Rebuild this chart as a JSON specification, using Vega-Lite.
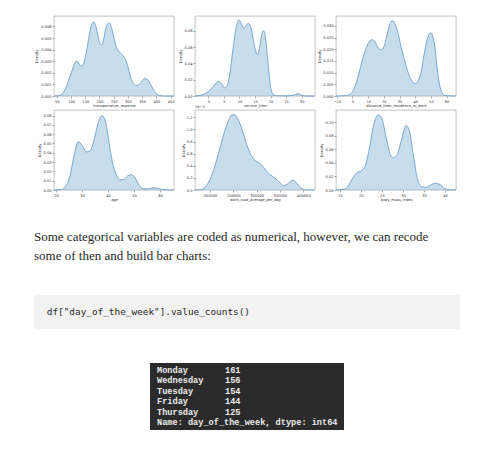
{
  "$schema": "https://vega.github.io/schema/vega-lite/v6.json",
  "padding": {"left": 34, "top": 10, "right": 4, "bottom": 4},
  "background": "white",
  "spacing": 0,
  "bounds": "full",
  "datasets": {
    "transport": [
      {"value": 40, "density": 0}, {"value": 55, "density": 0.00002}, {"value": 65, "density": 0.0001}, {"value": 75, "density": 0.0004},
      {"value": 85, "density": 0.0009}, {"value": 95, "density": 0.0016}, {"value": 105, "density": 0.0023}, {"value": 112, "density": 0.0028},
      {"value": 118, "density": 0.0030}, {"value": 125, "density": 0.0029}, {"value": 133, "density": 0.0026}, {"value": 140, "density": 0.0026},
      {"value": 148, "density": 0.0031}, {"value": 157, "density": 0.0042}, {"value": 166, "density": 0.0055}, {"value": 173, "density": 0.0062},
      {"value": 179, "density": 0.0064}, {"value": 186, "density": 0.0061}, {"value": 194, "density": 0.0053}, {"value": 202, "density": 0.0045},
      {"value": 208, "density": 0.0044}, {"value": 214, "density": 0.0048}, {"value": 221, "density": 0.0057}, {"value": 228, "density": 0.0062},
      {"value": 235, "density": 0.0063}, {"value": 242, "density": 0.0059}, {"value": 250, "density": 0.0051}, {"value": 258, "density": 0.0043},
      {"value": 266, "density": 0.0039}, {"value": 274, "density": 0.0037}, {"value": 282, "density": 0.0035}, {"value": 290, "density": 0.0032},
      {"value": 298, "density": 0.0027}, {"value": 306, "density": 0.0019}, {"value": 314, "density": 0.0013}, {"value": 322, "density": 0.0010},
      {"value": 331, "density": 0.0009}, {"value": 340, "density": 0.0010}, {"value": 350, "density": 0.0013}, {"value": 359, "density": 0.0015},
      {"value": 367, "density": 0.00145}, {"value": 375, "density": 0.0012}, {"value": 384, "density": 0.0008}, {"value": 393, "density": 0.0004},
      {"value": 402, "density": 0.00015}, {"value": 412, "density": 0.00003}, {"value": 425, "density": 0}, {"value": 462, "density": 0}
    ],
    "service": [
      {"value": -4.3, "density": 0}, {"value": -3, "density": 0.0005}, {"value": -1, "density": 0.003}, {"value": 1, "density": 0.009},
      {"value": 2.5, "density": 0.016}, {"value": 3.3, "density": 0.018}, {"value": 4.2, "density": 0.015}, {"value": 5.2, "density": 0.010},
      {"value": 6, "density": 0.012}, {"value": 7, "density": 0.030}, {"value": 8, "density": 0.060}, {"value": 9, "density": 0.085},
      {"value": 9.7, "density": 0.093}, {"value": 10.5, "density": 0.090}, {"value": 11.3, "density": 0.083}, {"value": 12, "density": 0.086},
      {"value": 12.9, "density": 0.089}, {"value": 13.8, "density": 0.082}, {"value": 14.8, "density": 0.062}, {"value": 15.8, "density": 0.050},
      {"value": 16.5, "density": 0.060}, {"value": 17.3, "density": 0.077}, {"value": 17.8, "density": 0.080}, {"value": 18.5, "density": 0.068},
      {"value": 19.2, "density": 0.040}, {"value": 20, "density": 0.012}, {"value": 20.8, "density": 0.002}, {"value": 22, "density": 0.0003},
      {"value": 25, "density": 0.0002}, {"value": 27.5, "density": 0.001}, {"value": 28.8, "density": 0.003}, {"value": 30, "density": 0.001},
      {"value": 31.5, "density": 0}, {"value": 34.3, "density": 0}
    ],
    "distance": [
      {"value": -10.5, "density": 0}, {"value": -4, "density": 0.0002}, {"value": -1, "density": 0.001}, {"value": 1, "density": 0.003},
      {"value": 3, "density": 0.007}, {"value": 5, "density": 0.012}, {"value": 7, "density": 0.017}, {"value": 9, "density": 0.021},
      {"value": 11, "density": 0.0235}, {"value": 12.7, "density": 0.0241}, {"value": 14, "density": 0.0235}, {"value": 16, "density": 0.021},
      {"value": 18, "density": 0.0198}, {"value": 20, "density": 0.021}, {"value": 22, "density": 0.026}, {"value": 24, "density": 0.031},
      {"value": 25.5, "density": 0.0322}, {"value": 27, "density": 0.031}, {"value": 29, "density": 0.027}, {"value": 31, "density": 0.021},
      {"value": 33, "density": 0.016}, {"value": 35, "density": 0.011}, {"value": 37, "density": 0.0075}, {"value": 39, "density": 0.0056},
      {"value": 40.5, "density": 0.0053}, {"value": 42, "density": 0.0065}, {"value": 44, "density": 0.011}, {"value": 46, "density": 0.019},
      {"value": 48, "density": 0.025}, {"value": 49.8, "density": 0.027}, {"value": 51, "density": 0.026}, {"value": 52.5, "density": 0.021},
      {"value": 54, "density": 0.012}, {"value": 55.5, "density": 0.005}, {"value": 57, "density": 0.0015}, {"value": 59, "density": 0.0002},
      {"value": 66, "density": 0}
    ],
    "age": [
      {"value": 19.2, "density": 0}, {"value": 22, "density": 0.0005}, {"value": 24, "density": 0.005}, {"value": 25.5, "density": 0.017},
      {"value": 27, "density": 0.038}, {"value": 28.5, "density": 0.052}, {"value": 30, "density": 0.048}, {"value": 31.8, "density": 0.041},
      {"value": 33, "density": 0.042}, {"value": 34.5, "density": 0.052}, {"value": 36, "density": 0.070}, {"value": 37.6, "density": 0.080},
      {"value": 39, "density": 0.074}, {"value": 40, "density": 0.058}, {"value": 41, "density": 0.040}, {"value": 42, "density": 0.026},
      {"value": 43, "density": 0.018}, {"value": 44.5, "density": 0.011}, {"value": 46, "density": 0.011}, {"value": 47.5, "density": 0.015},
      {"value": 49, "density": 0.0165}, {"value": 50.5, "density": 0.013}, {"value": 52, "density": 0.005}, {"value": 53.5, "density": 0.0015},
      {"value": 55, "density": 0.001}, {"value": 57.5, "density": 0.0025}, {"value": 59, "density": 0.002}, {"value": 61, "density": 0.0003},
      {"value": 65.4, "density": 0}
    ],
    "workload": [
      {"value": 168000, "density": 0}, {"value": 180000, "density": 0.05e-6}, {"value": 190000, "density": 0.5e-6}, {"value": 200000, "density": 1.7e-6},
      {"value": 210000, "density": 3.8e-6}, {"value": 220000, "density": 6.5e-6}, {"value": 230000, "density": 9.3e-6}, {"value": 240000, "density": 11.5e-6},
      {"value": 247000, "density": 12.4e-6}, {"value": 253000, "density": 12.4e-6}, {"value": 260000, "density": 11.7e-6}, {"value": 270000, "density": 9.7e-6},
      {"value": 280000, "density": 7.2e-6}, {"value": 290000, "density": 5.5e-6}, {"value": 300000, "density": 4.7e-6}, {"value": 307000, "density": 4.4e-6},
      {"value": 315000, "density": 3.7e-6}, {"value": 325000, "density": 2.8e-6}, {"value": 335000, "density": 2.2e-6}, {"value": 343000, "density": 1.7e-6},
      {"value": 350000, "density": 1.2e-6}, {"value": 358000, "density": 0.75e-6}, {"value": 365000, "density": 0.9e-6}, {"value": 372000, "density": 1.4e-6},
      {"value": 378000, "density": 1.6e-6}, {"value": 385000, "density": 1.2e-6}, {"value": 393000, "density": 0.4e-6}, {"value": 400000, "density": 0.1e-6},
      {"value": 410000, "density": 0.01e-6}, {"value": 425000, "density": 0}
    ],
    "bmi": [
      {"value": 14.1, "density": 0}, {"value": 16, "density": 0.001}, {"value": 17, "density": 0.006}, {"value": 18, "density": 0.017},
      {"value": 19, "density": 0.025}, {"value": 20, "density": 0.028}, {"value": 21, "density": 0.035}, {"value": 22, "density": 0.060},
      {"value": 23, "density": 0.095}, {"value": 24.2, "density": 0.111}, {"value": 25, "density": 0.105}, {"value": 26, "density": 0.078},
      {"value": 27, "density": 0.052}, {"value": 27.6, "density": 0.0475}, {"value": 28.5, "density": 0.051}, {"value": 29.5, "density": 0.070},
      {"value": 30.7, "density": 0.095}, {"value": 31.5, "density": 0.088}, {"value": 32.5, "density": 0.050}, {"value": 33.5, "density": 0.015},
      {"value": 34.5, "density": 0.005}, {"value": 35.5, "density": 0.004}, {"value": 36.5, "density": 0.007}, {"value": 37.7, "density": 0.010},
      {"value": 38.8, "density": 0.008}, {"value": 40, "density": 0.002}, {"value": 41, "density": 0.0003}, {"value": 42.6, "density": 0}
    ],
    "paragraph": [
      {"line": 1, "text": "Some categorical variables are coded as numerical, however, we can recode"},
      {"line": 2, "text": "some of then and build bar charts:"}
    ],
    "output": [
      {"line": 1, "part": "index", "text": "Monday"}, {"line": 1, "part": "value", "text": "161"},
      {"line": 2, "part": "index", "text": "Wednesday"}, {"line": 2, "part": "value", "text": "156"},
      {"line": 3, "part": "index", "text": "Tuesday"}, {"line": 3, "part": "value", "text": "154"},
      {"line": 4, "part": "index", "text": "Friday"}, {"line": 4, "part": "value", "text": "144"},
      {"line": 5, "part": "index", "text": "Thursday"}, {"line": 5, "part": "value", "text": "125"},
      {"line": 6, "part": "index", "text": "Name: day_of_the_week, dtype: int64"}
    ]
  },
  "vconcat": [
    {
      "bounds": "flush",
      "spacing": 19,
      "hconcat": [
        {
          "width": 1, "height": 1,
          "view": {"fill": "white", "stroke": null},
          "data": {"values": [{"blank": ""}]},
          "mark": {"type": "text"},
          "encoding": {"text": {"field": "blank"}}
        },
        {
          "columns": 3,
          "bounds": "flush",
          "spacing": {"row": 14, "column": 21},
          "concat": [
            {
              "width": 120, "height": 80,
              "data": {"name": "transport"},
              "mark": {"type": "area", "interpolate": "monotone", "fill": "#1f77b4", "fillOpacity": 0.25, "line": {"color": "#5f95c6", "strokeWidth": 0.8}},
              "encoding": {
                "x": {"field": "value", "type": "quantitative", "scale": {"domain": [40, 462], "nice": false, "zero": false},
                      "axis": {"title": "transportation_expense", "values": [50, 100, 150, 200, 250, 300, 350, 400, 450], "format": "d"}},
                "y": {"field": "density", "type": "quantitative", "scale": {"domain": [0, 0.0069], "nice": false},
                      "axis": {"title": "Density", "values": [0, 0.001, 0.002, 0.003, 0.004, 0.005, 0.006], "format": ".3f", "titlePadding": 2}}
              }
            },
            {
              "width": 120, "height": 80,
              "data": {"name": "service"},
              "mark": {"type": "area", "interpolate": "monotone", "fill": "#1f77b4", "fillOpacity": 0.25, "line": {"color": "#5f95c6", "strokeWidth": 0.8}},
              "encoding": {
                "x": {"field": "value", "type": "quantitative", "scale": {"domain": [-4.3, 34.3], "nice": false, "zero": false},
                      "axis": {"title": "service_time", "values": [0, 5, 10, 15, 20, 25, 30], "format": "d"}},
                "y": {"field": "density", "type": "quantitative", "scale": {"domain": [0, 0.098], "nice": false},
                      "axis": {"title": "Density", "values": [0, 0.02, 0.04, 0.06, 0.08], "format": ".2f"}}
              }
            },
            {
              "width": 120, "height": 80,
              "data": {"name": "distance"},
              "mark": {"type": "area", "interpolate": "monotone", "fill": "#1f77b4", "fillOpacity": 0.25, "line": {"color": "#5f95c6", "strokeWidth": 0.8}},
              "encoding": {
                "x": {"field": "value", "type": "quantitative", "scale": {"domain": [-10.5, 66], "nice": false, "zero": false},
                      "axis": {"title": "distance_from_residence_to_work", "values": [-10, 0, 10, 20, 30, 40, 50, 60], "format": "d"}},
                "y": {"field": "density", "type": "quantitative", "scale": {"domain": [0, 0.0342], "nice": false},
                      "axis": {"title": "Density", "values": [0, 0.005, 0.01, 0.015, 0.02, 0.025, 0.03], "format": ".3f"}}
              }
            },
            {
              "width": 120, "height": 80,
              "data": {"name": "age"},
              "mark": {"type": "area", "interpolate": "monotone", "fill": "#1f77b4", "fillOpacity": 0.25, "line": {"color": "#5f95c6", "strokeWidth": 0.8}},
              "encoding": {
                "x": {"field": "value", "type": "quantitative", "scale": {"domain": [19.2, 65.4], "nice": false, "zero": false},
                      "axis": {"title": "age", "values": [20, 30, 40, 50, 60], "format": "d"}},
                "y": {"field": "density", "type": "quantitative", "scale": {"domain": [0, 0.086], "nice": false},
                      "axis": {"title": "Density", "values": [0, 0.01, 0.02, 0.03, 0.04, 0.05, 0.06, 0.07, 0.08], "format": ".2f"}}
              }
            },
            {
              "width": 120, "height": 80,
              "title": {"text": "1e−5", "anchor": "start", "frame": "group", "fontSize": 3.6, "fontWeight": "normal", "font": "DejaVu Sans", "color": "#333333", "offset": 1},
              "data": {"name": "workload"},
              "mark": {"type": "area", "interpolate": "monotone", "fill": "#1f77b4", "fillOpacity": 0.25, "line": {"color": "#5f95c6", "strokeWidth": 0.8}},
              "encoding": {
                "x": {"field": "value", "type": "quantitative", "scale": {"domain": [168000, 425000], "nice": false, "zero": false},
                      "axis": {"title": "work_load_average_per_day", "values": [200000, 250000, 300000, 350000, 400000], "format": "d"}},
                "y": {"field": "density", "type": "quantitative", "scale": {"domain": [0, 1.32e-5], "nice": false},
                      "axis": {"title": "Density", "values": [0, 2e-6, 4e-6, 6e-6, 8e-6, 1e-5, 1.2e-5], "labelExpr": "format(datum.value * 100000, '.1f')"}}
              }
            },
            {
              "width": 120, "height": 80,
              "data": {"name": "bmi"},
              "mark": {"type": "area", "interpolate": "monotone", "fill": "#1f77b4", "fillOpacity": 0.25, "line": {"color": "#5f95c6", "strokeWidth": 0.8}},
              "encoding": {
                "x": {"field": "value", "type": "quantitative", "scale": {"domain": [14.1, 42.6], "nice": false, "zero": false},
                      "axis": {"title": "body_mass_index", "values": [15, 20, 25, 30, 35, 40], "format": "d"}},
                "y": {"field": "density", "type": "quantitative", "scale": {"domain": [0, 0.118], "nice": false},
                      "axis": {"title": "Density", "values": [0, 0.02, 0.04, 0.06, 0.08, 0.1], "format": ".2f"}}
              }
            }
          ]
        }
      ]
    },
    {
      "width": 440, "height": 93,
      "view": {"fill": "white", "stroke": null},
      "data": {"name": "paragraph"},
      "mark": {"type": "text", "align": "left", "baseline": "alphabetic", "font": "Liberation Serif", "fontSize": 13, "color": "#292929"},
      "encoding": {
        "x": {"datum": 0, "type": "quantitative", "scale": {"domain": [0, 1]}, "axis": null},
        "y": {"field": "line", "type": "quantitative", "scale": {"domain": [-1.005, 3.813], "reverse": true, "zero": false, "nice": false}, "axis": null},
        "text": {"field": "text"}
      }
    },
    {
      "spacing": 34,
      "bounds": "full",
      "vconcat": [
        {
          "width": 426, "height": 34,
          "view": {"fill": "#f2f2f2", "stroke": null},
          "data": {"values": [{"code": "df[\"day_of_the_week\"].value_counts()"}]},
          "mark": {"type": "text", "align": "left", "baseline": "middle", "font": "DejaVu Sans Mono", "fontSize": 9.4, "color": "#292929"},
          "encoding": {
            "x": {"datum": 0, "type": "quantitative", "scale": {"domain": [-0.03, 0.97]}, "axis": null},
            "text": {"field": "code"}
          }
        },
        {
          "spacing": 0,
          "bounds": "full",
          "hconcat": [
            {
              "width": 116, "height": 20,
              "view": {"fill": "white", "stroke": null},
              "data": {"values": [{"blank": ""}]},
              "mark": {"type": "text"},
              "encoding": {"text": {"field": "blank"}}
            },
            {
              "width": 194, "height": 67,
              "view": {"fill": "#2b2b2b", "stroke": null},
              "data": {"name": "output"},
              "mark": {"type": "text", "align": "left", "baseline": "middle", "font": "Liberation Mono", "fontWeight": "bold", "fontSize": 8.6, "color": "#ececec"},
              "encoding": {
                "x": {"field": "part", "type": "nominal", "scale": {"type": "point", "domain": ["index", "value"], "range": [7, 75], "padding": 0}, "axis": null},
                "y": {"field": "line", "type": "quantitative", "scale": {"domain": [0.33, 6.74], "reverse": true, "zero": false, "nice": false}, "axis": null},
                "text": {"field": "text"}
              }
            }
          ]
        }
      ]
    }
  ],
  "config": {
    "view": {"stroke": "#9a9a9a", "strokeWidth": 0.6},
    "axis": {
      "labelFont": "DejaVu Sans", "titleFont": "DejaVu Sans",
      "labelFontSize": 3.6, "titleFontSize": 3.6, "titleFontWeight": "normal",
      "labelColor": "#333333", "titleColor": "#333333",
      "tickSize": 2, "tickWidth": 0.5, "tickColor": "#555555",
      "domain": false, "grid": false,
      "labelPadding": 1, "titlePadding": 1,
      "labelFlush": false, "labelOverlap": false, "labelBound": false
    }
  }
}
